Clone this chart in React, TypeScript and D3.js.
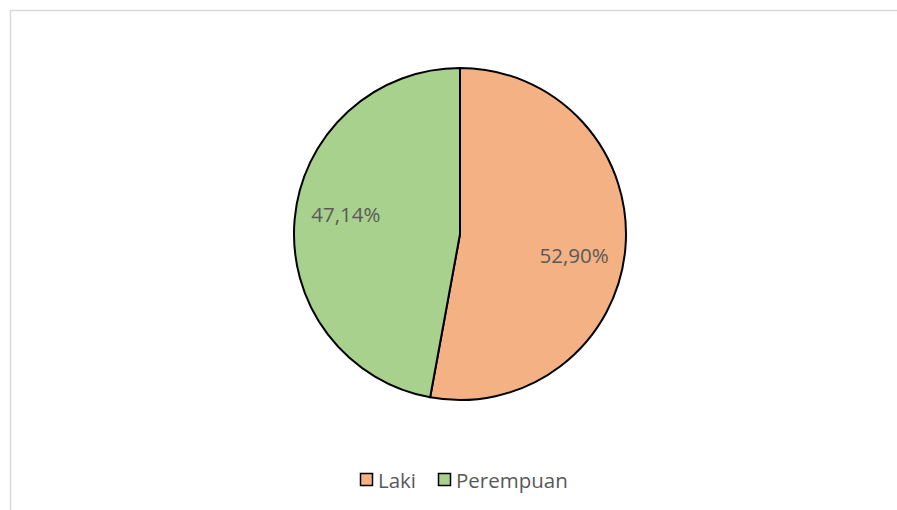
import React from "react";
import * as d3 from "d3";

const categories = ["Laki", "Perempuan"];
const values = [52.9, 47.14];
const labels = ["52,90%", "47,14%"];
const colors = ["#F4B183", "#A9D18E"];

const W = 897;
const H = 510;
const cx = 460;
const cy = 234;
const R = 166;

export default function App() {
  const pie = d3.pie<number>().sort(null).value((d) => d)(values);
  const arc = d3.arc<d3.PieArcDatum<number>>().innerRadius(0).outerRadius(R);
  const font = "'Open Sans', 'Noto Sans', sans-serif";
  const legendX = [360, 438];
  const labelR = 116;
  const labelShift = (5 * Math.PI) / 180;
  return (
    <svg
      width={W}
      height={H}
      style={{ position: "absolute", left: 0, top: 0, background: "#fff" }}
    >
      <rect x={10.5} y={10.5} width={W + 20} height={H + 20} fill="#fff" stroke="#D9D9D9" strokeWidth={1.5} />
      <g transform={`translate(${cx},${cy})`}>
        {pie.map((p, i) => (
          <path key={categories[i]} d={arc(p) || ""} fill={colors[i]} stroke="#000" strokeWidth={2} strokeLinejoin="round" />
        ))}
        {pie.map((p, i) => {
          const a = (p.startAngle + p.endAngle) / 2 + labelShift;
          const x = labelR * Math.sin(a);
          const y = -labelR * Math.cos(a);
          return (
            <text key={"l" + i} x={x} y={y} textAnchor="middle" dominantBaseline="central" fontFamily={font} fontSize={20.5} fill="#595959">
              {labels[i]}
            </text>
          );
        })}
      </g>
      {categories.map((c, i) => (
        <g key={"lg" + i}>
          <rect x={legendX[i] + 0.5} y={473.5} width={12} height={12} fill={colors[i]} stroke="#000" strokeWidth={1.5} />
          <text x={legendX[i] + 18} y={479.5} dominantBaseline="central" fontFamily={font} fontSize={20.5} fill="#595959">
            {c}
          </text>
        </g>
      ))}
    </svg>
  );
}
